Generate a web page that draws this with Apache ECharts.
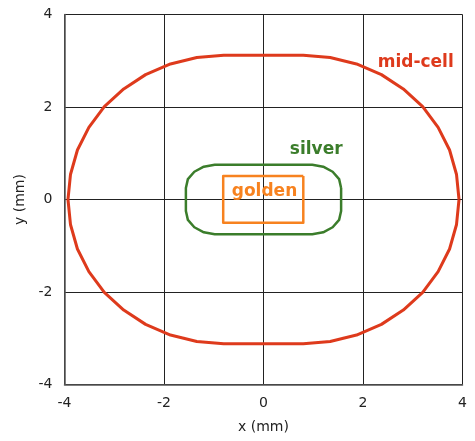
<!DOCTYPE html>
<html>
<head>
<meta charset="utf-8">
<script src="https://cdn.jsdelivr.net/npm/echarts@6/dist/echarts.min.js"></script>
<style>
  html, body { margin: 0; padding: 0; background: #fff; }
  #chart { width: 475px; height: 441px; }
</style>
</head>
<body>
<div id="chart"></div>
<script>
// Aperture outlines in the transverse plane, coordinates in mm.
const midCellX = [3.93, 3.88, 3.74, 3.51, 3.20, 2.81, 2.37, 1.87, 1.34, 0.80,
  -0.80, -1.34, -1.87, -2.37, -2.81, -3.20, -3.51, -3.74, -3.88, -3.93,
  -3.88, -3.74, -3.51, -3.20, -2.81, -2.37, -1.87, -1.34, -0.80,
  0.80, 1.34, 1.87, 2.37, 2.81, 3.20, 3.51, 3.74, 3.88, 3.93];
const midCellY = [0, 0.54, 1.07, 1.56, 2.01, 2.39, 2.70, 2.93, 3.07, 3.12,
  3.12, 3.07, 2.93, 2.70, 2.39, 2.01, 1.56, 1.07, 0.54, 0,
  -0.54, -1.07, -1.56, -2.01, -2.39, -2.70, -2.93, -3.07, -3.12,
  -3.12, -3.07, -2.93, -2.70, -2.39, -2.01, -1.56, -1.07, -0.54, 0];

const silverX = [1.56, 1.52, 1.39, 1.20, 0.98, -0.98, -1.20, -1.39, -1.52, -1.56,
  -1.56, -1.52, -1.39, -1.20, -0.98, 0.98, 1.20, 1.39, 1.52, 1.56, 1.56];
const silverY = [0.25, 0.44, 0.60, 0.71, 0.75, 0.75, 0.71, 0.60, 0.44, 0.25,
  -0.25, -0.44, -0.60, -0.71, -0.75, -0.75, -0.71, -0.60, -0.44, -0.25, 0.25];

const goldenX = [0.80, -0.81, -0.81, 0.80, 0.80];
const goldenY = [0.51, 0.51, -0.50, -0.50, 0.51];

// Name tags placed beside each outline
const tagNames = ['mid-cell', 'silver', 'golden'];
const tagX = [3.06, 1.06, 0.02];
const tagY = [2.97, 1.07, 0.18];

const xTicks = [-4, -2, 0, 2, 4];
const yTicks = [-4, -2, 0, 2, 4];

const colors = { 'mid-cell': '#de3a1c', silver: '#3b7d2b', golden: '#f7821f' };

function pairs(xs, ys) {
  return xs.map((x, i) => [x, ys[i]]);
}

const font = 'DejaVu Sans, Verdana, sans-serif';

const chart = echarts.init(document.getElementById('chart'), null, { renderer: 'canvas' });

const outline = (name, xs, ys, width) => ({
  name: name,
  type: 'line',
  data: pairs(xs, ys),
  showSymbol: false,
  symbol: 'none',
  smooth: false,
  lineStyle: { color: colors[name], width: width, join: 'round' },
  z: 3
});

chart.setOption({
  animation: false,
  backgroundColor: '#fff',
  grid: { left: 64.5, right: 12.5, top: 14.5, bottom: 56.5, containLabel: false },
  xAxis: {
    type: 'value',
    min: xTicks[0],
    max: xTicks[xTicks.length - 1],
    interval: 2,
    name: 'x (mm)',
    nameLocation: 'middle',
    nameGap: 36,
    nameTextStyle: { fontFamily: font, fontSize: 14, color: '#222' },
    axisLine: { onZero: false, lineStyle: { color: '#555', width: 1.5 } },
    axisTick: { show: false },
    axisLabel: { fontFamily: font, fontSize: 14, color: '#222', margin: 12 },
    splitLine: { show: true, lineStyle: { color: '#222', width: 1 } }
  },
  yAxis: {
    type: 'value',
    min: yTicks[0],
    max: yTicks[yTicks.length - 1],
    interval: 2,
    name: 'y (mm)',
    nameLocation: 'middle',
    nameGap: 36,
    nameTextStyle: { fontFamily: font, fontSize: 14, color: '#222' },
    axisLine: { onZero: false, lineStyle: { color: '#555', width: 1.5 } },
    axisTick: { show: false },
    axisLabel: { fontFamily: font, fontSize: 14, color: '#222', margin: 12 },
    splitLine: { show: true, lineStyle: { color: '#222', width: 1 } }
  },
  series: [
    outline('mid-cell', midCellX, midCellY, 3),
    outline('silver', silverX, silverY, 2.5),
    outline('golden', goldenX, goldenY, 2.5),
    {
      name: 'tags',
      type: 'scatter',
      symbolSize: 0,
      z: 5,
      itemStyle: { opacity: 1 },
      data: tagNames.map((n, i) => ({
        value: [tagX[i], tagY[i]],
        itemStyle: { opacity: 1 },
        label: {
          show: true,
          position: 'inside',
          formatter: n,
          fontFamily: font,
          fontWeight: 'bold',
          fontSize: 17,
          color: colors[n],
          opacity: 1
        }
      }))
    }
  ]
});
</script>
</body>
</html>
